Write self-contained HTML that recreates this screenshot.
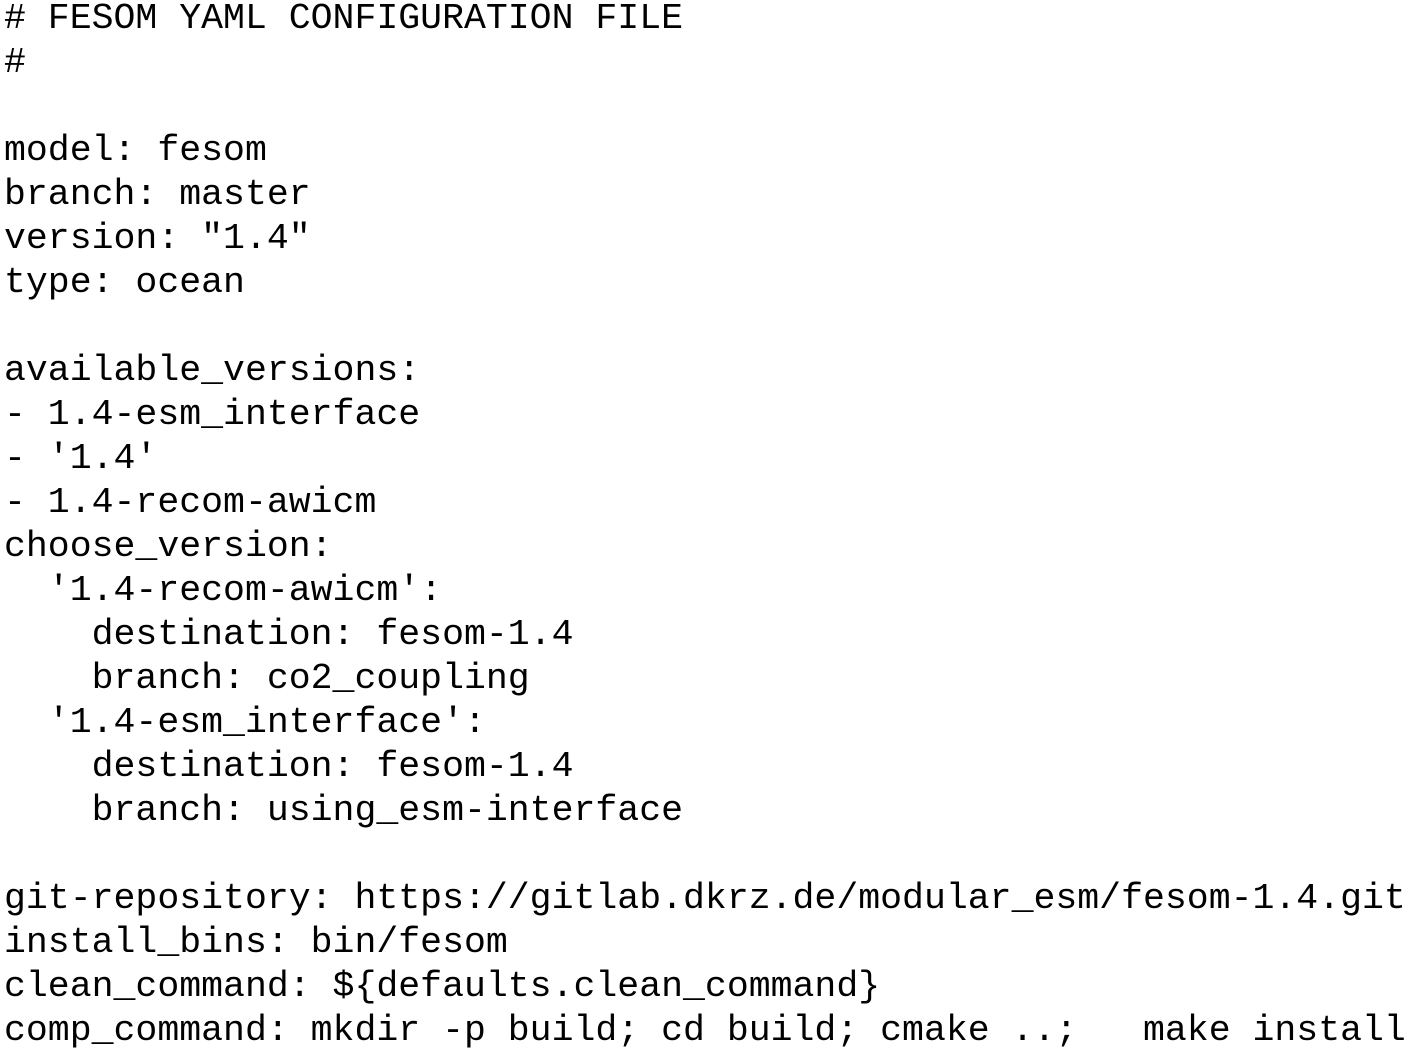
<!DOCTYPE html>
<html><head><meta charset="utf-8"><style>
html,body{margin:0;padding:0;background:#fff;width:1411px;height:1050px;overflow:hidden}
pre{position:absolute;left:4px;top:-3px;margin:0;font-family:"Liberation Mono",monospace;font-size:36.5px;line-height:44px;color:#000}
</style></head><body><pre># FESOM YAML CONFIGURATION FILE
#

model: fesom
branch: master
version: "1.4"
type: ocean

available_versions:
- 1.4-esm_interface
- '1.4'
- 1.4-recom-awicm
choose_version:
  '1.4-recom-awicm':
    destination: fesom-1.4
    branch: co2_coupling
  '1.4-esm_interface':
    destination: fesom-1.4
    branch: using_esm-interface

git-repository: https://gitlab.dkrz.de/modular_esm/fesom-1.4.git
install_bins: bin/fesom
clean_command: ${defaults.clean_command}
comp_command: mkdir -p build; cd build; cmake ..;   make install</pre></body></html>
